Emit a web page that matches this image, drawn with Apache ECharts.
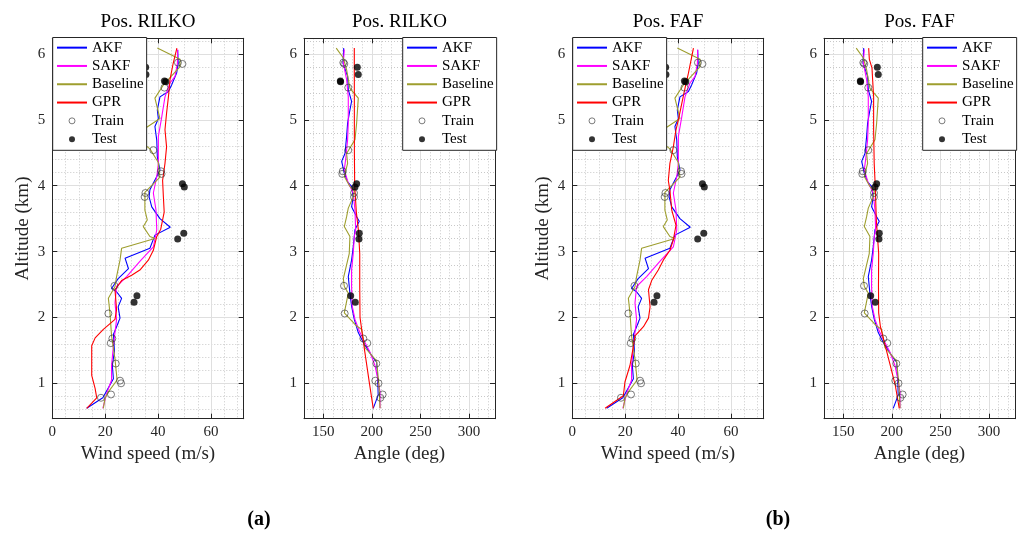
<!DOCTYPE html>
<html><head><meta charset="utf-8">
<script src="https://cdn.jsdelivr.net/npm/echarts@6/dist/echarts.min.js"></script>
<style>html,body{margin:0;padding:0;background:#fff}#c{width:1024px;height:534px}</style>
</head><body><div id="c"></div><script>
// ---------- DATA (altitude in km) ----------
const trainAlt   = [5.87,5.85,5.49,4.54,4.22,4.18,3.89,3.83,2.48,2.06,1.68,1.61,1.30,1.04,1.00,0.83,0.78];
const trainSpeed = [47.5,49.2,42.4,38.2,41.1,41.3,35.2,34.9,23.5,21.2,22.7,22.1,24.0,25.6,26.0,22.2,18.4];
const trainAngle = [170.6,171.6,175.7,175.7,170.0,169.5,181.6,181.6,171.3,172.0,191.2,195.3,204.6,203.5,206.8,211.1,208.8];

const testAlt   = [5.80,5.69,5.59,5.58,4.03,3.98,3.28,3.19,2.33,2.23];
const testSpeed = [35.3,35.4,42.4,42.9,49.2,49.9,49.7,47.4,32.0,30.9];
const testAngle = [185.0,186.0,167.5,167.8,184.3,182.6,187.0,186.7,178.2,182.9];

const akfSpeedAlt = [6.06,5.86,5.71,5.53,5.43,5.35,5.15,5.02,4.90,4.69,4.44,4.24,4.14,3.94,3.83,3.68,3.50,3.37,3.25,3.05,2.90,2.74,2.59,2.44,2.39,2.29,2.16,1.99,1.86,1.74,1.49,1.27,1.07,0.78,0.62];
const akfSpeed    = [47.4,47.6,47.0,45.1,43.9,40.7,39.7,40.1,38.8,39.5,39.7,40.7,39.5,36.9,36.6,37.6,40.7,44.6,38.8,36.9,27.5,28.8,24.9,22.4,24.3,26.2,24.9,25.6,24.3,23.1,23.5,22.7,23.1,19.1,13.0];

const sakfSpeedAlt = [6.07,5.86,5.66,5.56,5.35,5.05,4.75,4.34,4.14,3.89,3.63,3.33,3.07,2.85,2.62,2.47,2.22,1.97,1.57,1.27,1.05,0.85,0.62];
const sakfSpeed    = [47.4,47.3,46.4,44.5,42.6,41.4,40.1,40.1,39.5,38.2,39.2,39.5,38.2,33.1,28.1,24.3,23.7,24.3,23.1,22.4,22.4,20.6,19.1];

const baseSpeedAlt = [6.09,5.92,5.81,5.53,5.33,5.02,4.87,4.72,4.56,4.36,4.13,4.03,3.90,3.63,3.48,3.38,3.23,3.20,3.05,2.87,2.62,2.47,2.29,2.07,1.72,1.37,1.05,0.87,0.77,0.62];
const baseSpeed    = [39.7,48.3,48.3,42.0,38.8,40.7,35.0,32.0,36.9,40.0,40.7,38.2,35.0,35.0,35.9,34.4,36.9,38.8,26.2,25.6,24.3,23.7,21.2,21.8,22.4,23.7,24.5,21.2,19.9,19.3];

const gprSpeedRilkoAlt = [6.09,5.86,5.61,5.35,5.10,4.85,4.59,4.34,4.08,3.83,3.60,3.34,3.23,3.02,2.87,2.72,2.64,2.56,2.42,2.12,1.97,1.82,1.69,1.57,1.12,0.92,0.78,0.62];
const gprSpeedRilko    = [47.1,45.7,44.5,43.9,43.2,42.6,43.2,42.6,41.7,42.0,42.3,41.0,39.5,38.2,36.3,33.1,30.0,26.2,23.7,24.3,23.7,19.3,16.2,14.9,14.9,16.2,16.8,13.0];

const gprSpeedFafAlt = [6.09,5.71,5.48,5.25,5.00,4.85,4.59,4.34,4.08,3.93,3.63,3.40,3.18,3.02,2.87,2.72,2.56,2.42,2.16,1.99,1.86,1.72,1.56,1.27,1.02,0.81,0.62];
const gprSpeedFaf    = [45.8,43.9,42.6,41.4,40.1,39.2,38.2,36.9,36.3,36.9,37.6,39.2,38.2,36.9,34.4,32.5,30.0,28.8,29.4,28.8,26.9,23.7,23.1,21.8,19.9,19.3,12.4];

const akfAngleAlt = [6.09,5.86,5.66,5.46,5.28,5.15,4.95,4.75,4.49,4.37,4.19,4.06,3.99,3.83,3.68,3.53,3.46,3.33,3.07,2.87,2.62,2.37,2.17,1.97,1.77,1.62,1.42,1.32,1.07,0.82,0.62];
const akfAngle    = [171.0,170.3,175.0,175.7,179.1,177.4,175.0,174.0,172.3,168.9,171.6,175.0,179.1,180.8,179.1,184.3,187.0,182.6,180.8,179.1,175.7,177.4,179.1,181.9,186.0,191.2,199.8,204.9,206.0,206.5,201.4];

const sakfAngleAlt = [6.07,5.86,5.61,5.35,4.95,4.70,4.44,4.24,4.04,3.89,3.63,3.33,3.23,2.97,2.72,2.47,2.17,1.97,1.77,1.62,1.47,1.27,1.07,0.87,0.62];
const sakfAngle    = [171.6,170.6,174.0,175.7,175.7,175.0,173.3,171.6,175.7,180.8,182.6,183.3,181.9,180.8,179.1,179.1,179.8,182.6,187.7,192.9,198.1,203.2,206.0,208.4,208.4];

const baseAngleAlt = [6.09,5.94,5.76,5.48,5.33,4.95,4.70,4.49,4.34,4.14,3.99,3.92,3.83,3.66,3.53,3.38,3.23,2.97,2.59,2.47,2.37,2.07,1.87,1.82,1.54,1.34,0.97,0.62];
const baseAngle    = [163.3,170.6,174.0,177.4,186.0,184.3,182.6,174.0,175.0,171.6,177.4,181.9,180.8,175.7,174.0,171.6,177.4,176.7,170.6,171.6,175.7,171.6,184.3,189.4,192.9,204.9,207.3,208.4];

const gprAngleRilkoAlt = [6.09,4.50,4.00,3.60,3.30,2.97,2.47,2.00,1.50,1.00,0.62];
const gprAngleRilko    = [181.9,182.0,182.3,184.0,186.3,187.5,187.5,187.8,192.5,197.5,201.4];

const gprAngleFafAlt = [6.09,5.92,5.79,5.35,4.85,4.34,3.99,3.48,2.97,2.47,2.07,1.87,1.57,1.27,0.97,0.62];
const gprAngleFaf    = [176.1,176.8,179.5,181.2,181.2,181.8,182.9,184.0,186.4,186.2,186.4,188.1,193.2,198.4,203.5,207.6];

const legendNames = ['AKF','SAKF','Baseline','GPR','Train','Test'];
const panelTitles = ['Pos. RILKO','Pos. RILKO','Pos. FAF','Pos. FAF'];
const captions = ['(a)','(b)'];

// ---------- LAYOUT / STYLE ----------
const FONT = 'Liberation Serif';
const AX = '#262626';
const CLEAR = 'rgba(0,0,0,0)';
const Y_MIN = 0.4625, Y_MAX = 6.239;
const GTOP = 38.3, GH = 380.4;
const pair = (alts, vals) => alts.map((a, i) => [vals[i], a]);

const panels = [
  {left:52.3, width:191.4, xMin:0, xMax:72.36, major:20, minor:5, xName:'Wind speed (m/s)', yName:'Altitude (km)', legendLeft:52.7,
   akf:pair(akfSpeedAlt,akfSpeed), sakf:pair(sakfSpeedAlt,sakfSpeed), base:pair(baseSpeedAlt,baseSpeed), gpr:pair(gprSpeedRilkoAlt,gprSpeedRilko),
   train:pair(trainAlt,trainSpeed), test:pair(testAlt,testSpeed)},
  {left:304, width:191, xMin:130.1, xMax:326.8, major:50, minor:10, xName:'Angle (deg)', yName:'', legendLeft:402.7,
   akf:pair(akfAngleAlt,akfAngle), sakf:pair(sakfAngleAlt,sakfAngle), base:pair(baseAngleAlt,baseAngle), gpr:pair(gprAngleRilkoAlt,gprAngleRilko),
   train:pair(trainAlt,trainAngle), test:pair(testAlt,testAngle)},
  {left:572.3, width:191.4, xMin:0, xMax:72.36, major:20, minor:5, xName:'Wind speed (m/s)', yName:'Altitude (km)', legendLeft:572.7,
   akf:pair(akfSpeedAlt,akfSpeed), sakf:pair(sakfSpeedAlt,sakfSpeed), base:pair(baseSpeedAlt,baseSpeed), gpr:pair(gprSpeedFafAlt,gprSpeedFaf),
   train:pair(trainAlt,trainSpeed), test:pair(testAlt,testSpeed)},
  {left:824, width:191, xMin:130.1, xMax:326.8, major:50, minor:10, xName:'Angle (deg)', yName:'', legendLeft:922.7,
   akf:pair(akfAngleAlt,akfAngle), sakf:pair(sakfAngleAlt,sakfAngle), base:pair(baseAngleAlt,baseAngle), gpr:pair(gprAngleFafAlt,gprAngleFaf),
   train:pair(trainAlt,trainAngle), test:pair(testAlt,testAngle)}
];

const legendData = legendNames.map(n => n === 'Train'
  ? {name:n, itemStyle:{color:CLEAR, borderColor:'#333333', borderWidth:0.8}}
  : n === 'Test' ? {name:n, itemStyle:{color:'#000000', borderWidth:0}} : {name:n});

const grid = [], xAxis = [], yAxis = [], series = [], legend = [], graphic = [];

panels.forEach((P, p) => {
  grid.push({left:P.left, top:GTOP, width:P.width, height:GH, containLabel:false});
  const minIsTick = (P.xMin % P.major) === 0;
  xAxis.push({gridIndex:p, type:'value', position:'bottom', min:P.xMin, max:P.xMax, minInterval:P.major, maxInterval:P.major, z:1,
    axisLine:{show:true, onZero:false, lineStyle:{color:AX, width:1}},
    axisTick:{show:true, inside:true, length:5, lineStyle:{color:AX}},
    axisLabel:{show:true, color:AX, fontFamily:FONT, fontSize:15, margin:6, showMinLabel:minIsTick, showMaxLabel:false},
    splitLine:{show:true, lineStyle:{color:'#dfdfdf', width:1}},
    name:P.xName, nameLocation:'middle', nameGap:25, nameTextStyle:{fontFamily:FONT, fontSize:19, color:AX}});
  xAxis.push({gridIndex:p, type:'value', position:'top', min:P.xMin, max:P.xMax, minInterval:P.major, maxInterval:P.major, z:1,
    axisLine:{show:true, onZero:false, lineStyle:{color:AX, width:1}},
    axisTick:{show:true, inside:true, length:5, lineStyle:{color:AX}},
    axisLabel:{show:false}, splitLine:{show:false}});
  xAxis.push({gridIndex:p, type:'value', position:'top', min:P.xMin, max:P.xMax, minInterval:P.minor, maxInterval:P.minor, z:0,
    axisLine:{show:false}, axisTick:{show:false}, axisLabel:{show:false},
    splitLine:{show:true, lineStyle:{color:'#c8c8c8', width:1, type:[1,2]}}});

  yAxis.push({gridIndex:p, type:'value', position:'left', min:Y_MIN, max:Y_MAX, minInterval:1, maxInterval:1, z:1,
    axisLine:{show:true, onZero:false, lineStyle:{color:AX, width:1}},
    axisTick:{show:true, inside:true, length:5, lineStyle:{color:AX}},
    axisLabel:{show:true, color:AX, fontFamily:FONT, fontSize:15, margin:7, showMinLabel:false, showMaxLabel:false},
    splitLine:{show:true, lineStyle:{color:'#dfdfdf', width:1}},
    name:P.yName, nameLocation:'middle', nameGap:20, nameTextStyle:{fontFamily:FONT, fontSize:19, color:AX}});
  yAxis.push({gridIndex:p, type:'value', position:'right', min:Y_MIN, max:Y_MAX, minInterval:1, maxInterval:1, z:1,
    axisLine:{show:true, onZero:false, lineStyle:{color:AX, width:1}},
    axisTick:{show:true, inside:true, length:5, lineStyle:{color:AX}},
    axisLabel:{show:false}, splitLine:{show:false}});
  yAxis.push({gridIndex:p, type:'value', position:'right', min:Y_MIN, max:Y_MAX, minInterval:0.2, maxInterval:0.2, z:0,
    axisLine:{show:false}, axisTick:{show:false}, axisLabel:{show:false},
    splitLine:{show:true, lineStyle:{color:'#c8c8c8', width:1, type:[1,2]}}});

  const xi = 3*p, yi = 3*p;
  const line = (name, data, color) => ({type:'line', name, xAxisIndex:xi, yAxisIndex:yi, data, symbol:'none', showSymbol:false,
    lineStyle:{color, width:1.1}, itemStyle:{color:CLEAR, borderColor:CLEAR, borderWidth:0}, animation:false, silent:true, z:2});
  series.push(line('AKF', P.akf, '#0000ff'));
  series.push(line('SAKF', P.sakf, '#ff00ff'));
  series.push(line('Baseline', P.base, '#9e9e2e'));
  series.push(line('GPR', P.gpr, '#ff0000'));
  series.push({type:'scatter', name:'Train', xAxisIndex:xi, yAxisIndex:yi, data:P.train, symbol:'circle', symbolSize:7,
    itemStyle:{color:CLEAR, borderColor:'#333333', borderWidth:0.8}, animation:false, silent:true, z:3});
  series.push({type:'scatter', name:'Test', xAxisIndex:xi, yAxisIndex:yi, data:P.test, symbol:'circle', symbolSize:7,
    itemStyle:{color:'#000000'}, animation:false, silent:true, z:3});

  legend.push({orient:'vertical', left:P.legendLeft, top:37.5, itemWidth:30, itemHeight:6, itemGap:0,
    padding:[1,3,2,3.3], backgroundColor:'#ffffff', borderColor:AX, borderWidth:1, borderRadius:0,
    textStyle:{fontFamily:FONT, fontSize:15, color:'#000', lineHeight:18.3}, data:legendData, selectedMode:false, z:6});

  graphic.push({type:'text', x:P.left + P.width/2, y:22.5, z:10,
    style:{text:panelTitles[p], font:'19px "Liberation Serif"', fill:'#000', textAlign:'center', textVerticalAlign:'middle'}});
});

graphic.push({type:'text', x:259, y:520, style:{text:captions[0], font:'bold 20px "Liberation Serif"', fill:'#000', textAlign:'center', textVerticalAlign:'middle'}});
graphic.push({type:'text', x:778, y:520, style:{text:captions[1], font:'bold 20px "Liberation Serif"', fill:'#000', textAlign:'center', textVerticalAlign:'middle'}});

const chart = echarts.init(document.getElementById('c'), null, {renderer:'canvas'});
chart.setOption({animation:false, backgroundColor:'#ffffff', textStyle:{fontFamily:FONT},
  grid, xAxis, yAxis, series, legend, graphic});
</script></body></html>
